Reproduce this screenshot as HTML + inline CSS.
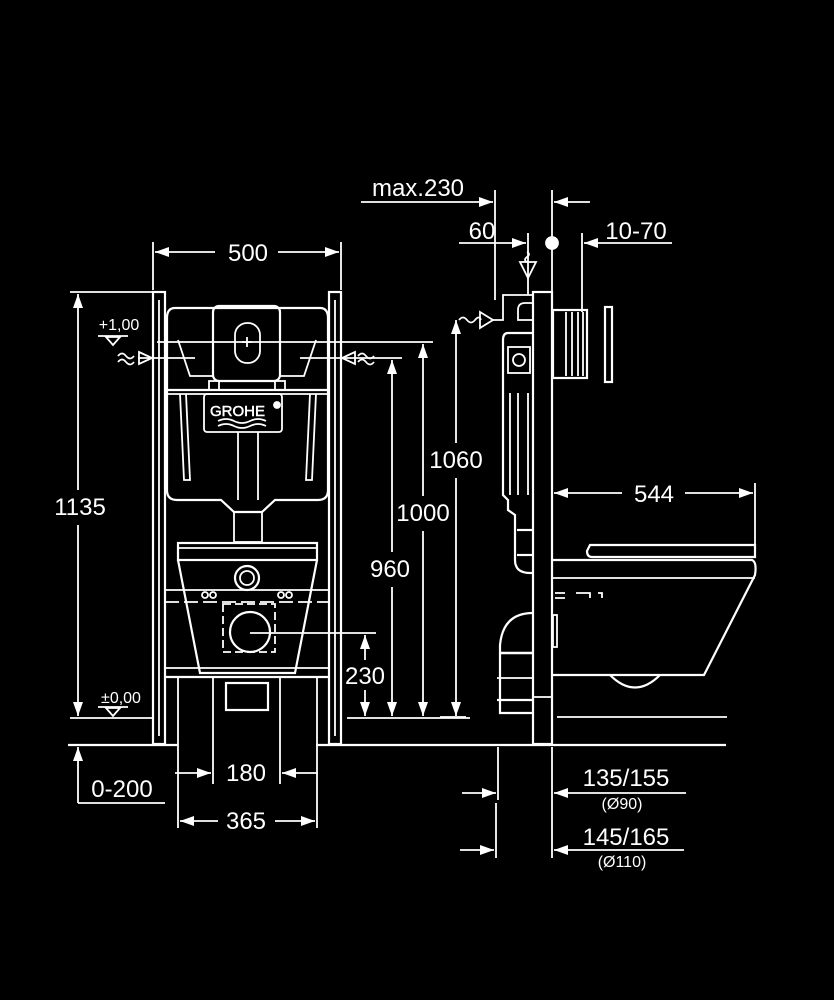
<!DOCTYPE html>
<html><head><meta charset="utf-8"><style>
html,body{margin:0;padding:0;background:#000;}
svg{display:block;}
text{font-family:"Liberation Sans",sans-serif;fill:#fff;}
</style></head><body>
<svg width="834" height="1000" viewBox="0 0 834 1000" xmlns="http://www.w3.org/2000/svg">
<defs>
<marker id="a" viewBox="0 0 14 10" refX="14" refY="5" markerWidth="14" markerHeight="10" markerUnits="userSpaceOnUse" orient="auto-start-reverse"><path d="M0,0 L14,5 L0,10 Z" fill="#fff"/></marker>
</defs>
<rect width="834" height="1000" fill="#000"/>
<g stroke="#fff" stroke-width="1.8" fill="none">
<line x1="68" y1="745" x2="178" y2="745" stroke-width="2.2"/>
<line x1="316" y1="745" x2="726" y2="745" stroke-width="2.2"/>
<line x1="70" y1="718" x2="152" y2="718"/>
<line x1="347" y1="718" x2="470" y2="718"/>
<line x1="557" y1="717" x2="727" y2="717"/>
<line x1="440" y1="717" x2="466" y2="717"/>
<rect x="153" y="292" width="12" height="452" stroke-width="2.2"/>
<rect x="329" y="292" width="12" height="452" stroke-width="2.2"/>
<line x1="159" y1="300" x2="159" y2="736"/>
<line x1="335" y1="300" x2="335" y2="736"/>
<line x1="165" y1="590" x2="329" y2="590"/>
<line x1="165" y1="602" x2="329" y2="602" stroke-dasharray="14 5"/>
<line x1="165" y1="668" x2="329" y2="668"/>
<line x1="165" y1="677" x2="329" y2="677" stroke-width="2.2"/>
<path d="M175,308 H320 Q328,308 328,318 V490 Q328,500 318,500 H275 L262,512 H234 L221,500 H177 Q167,500 167,490 V318 Q167,308 175,308 Z" stroke-width="2.2"/>
<path d="M178,340 L190,376 H214 M316,340 L304,376 H280" />
<line x1="167" y1="390" x2="328" y2="390" stroke-width="2.2"/>
<line x1="167" y1="394" x2="328" y2="394"/>
<path d="M180,394 L184,480 H190 L186,394 M316,394 L312,480 H306 L310,394"/>
<rect x="204" y="394" width="78" height="38" rx="3"/>
<text x="210" y="416" font-size="15" font-family="Liberation Serif" stroke="#fff" stroke-width="0.5" fill="none">GROHE</text>
<circle cx="277" cy="405" r="3" fill="#fff"/>
<path d="M218,421 q8,-4 16,0 t16,0 t16,0 M218,426 q8,-4 16,0 t16,0 t16,0" />
<line x1="238" y1="432" x2="238" y2="500"/><line x1="258" y1="432" x2="258" y2="500"/>
<rect x="213" y="306" width="67" height="75" rx="6" stroke-width="2.2"/>
<rect x="235" y="323" width="25" height="40" rx="12"/>
<line x1="247" y1="337" x2="247" y2="347"/><line x1="242" y1="342" x2="252" y2="342"/>
<rect x="209" y="381" width="10" height="9"/><rect x="275" y="381" width="10" height="9"/>
<rect x="234" y="512" width="28" height="30"/>
<rect x="178" y="543" width="139" height="17" stroke-width="2.2"/>
<line x1="178" y1="548" x2="317" y2="548"/>
<path d="M178,560 L200,673 H295 L317,560" stroke-width="2.2"/>
<circle cx="247" cy="578" r="12" stroke-width="2.2"/><circle cx="247" cy="578" r="7"/>
<circle cx="250" cy="632" r="20" stroke-width="2.2"/>
<rect x="223" y="604" width="52" height="48" stroke-dasharray="8 4"/>
<rect x="226" y="683" width="42" height="27" stroke-width="2.2"/>
<circle cx="205" cy="595" r="3"/><circle cx="213" cy="595" r="3"/><circle cx="281" cy="595" r="3"/><circle cx="289" cy="595" r="3"/>
<line x1="157" y1="342" x2="433" y2="342"/>
<line x1="138" y1="358" x2="195" y2="358"/>
<line x1="300" y1="358" x2="402" y2="358"/>
<path d="M139,352 L152,358 L139,364 Z"/>
<path d="M355,352 L342,358 L355,364 Z"/>
<path d="M118,356 q4,-5 8,0 t8,0 M118,362 q4,-5 8,0 t8,0"/>
<path d="M358,356 q4,-5 8,0 t8,0 M358,362 q4,-5 8,0 t8,0"/>
<path d="M106,337 L120,337 L113,345 Z"/>
<line x1="98" y1="336" x2="128" y2="336"/>
<path d="M106,708 L120,708 L113,716 Z"/>
<line x1="98" y1="707" x2="128" y2="707"/>
<line x1="70" y1="292" x2="153" y2="292"/>
<line x1="78" y1="294" x2="78" y2="490" marker-start="url(#a)"/>
<line x1="78" y1="525" x2="78" y2="716" marker-end="url(#a)"/>
<line x1="153" y1="242" x2="153" y2="290"/><line x1="341" y1="242" x2="341" y2="290"/>
<line x1="155" y1="252" x2="215" y2="252" marker-start="url(#a)"/>
<line x1="278" y1="252" x2="339" y2="252" marker-end="url(#a)"/>
<line x1="392" y1="360" x2="392" y2="552" marker-start="url(#a)"/>
<line x1="392" y1="587" x2="392" y2="716" marker-end="url(#a)"/>
<line x1="423" y1="344" x2="423" y2="496" marker-start="url(#a)"/>
<line x1="423" y1="531" x2="423" y2="716" marker-end="url(#a)"/>
<line x1="456" y1="320" x2="456" y2="443" marker-start="url(#a)"/>
<line x1="456" y1="478" x2="456" y2="716" marker-end="url(#a)"/>
<line x1="250" y1="633" x2="376" y2="633"/>
<line x1="365" y1="635" x2="365" y2="660" marker-start="url(#a)"/>
<line x1="365" y1="690" x2="365" y2="716" marker-end="url(#a)"/>
<line x1="78" y1="747" x2="78" y2="803" marker-start="url(#a)"/>
<line x1="78" y1="803" x2="165" y2="803"/>
<line x1="178" y1="677" x2="178" y2="828"/><line x1="317" y1="677" x2="317" y2="828"/>
<line x1="213" y1="677" x2="213" y2="784"/><line x1="280" y1="677" x2="280" y2="784"/>
<line x1="175" y1="773" x2="211" y2="773" marker-end="url(#a)"/>
<line x1="318" y1="773" x2="282" y2="773" marker-end="url(#a)"/>
<line x1="180" y1="821" x2="218" y2="821" marker-start="url(#a)"/>
<line x1="275" y1="821" x2="315" y2="821" marker-end="url(#a)"/>
<rect x="533" y="292" width="19" height="452" stroke-width="2.2"/>
<line x1="533" y1="697" x2="552" y2="697"/>
<rect x="553" y="310" width="34" height="68" stroke-width="2.2"/>
<path d="M566,312 V376 M572,312 V376 M578,312 V376 M583,312 V376"/>
<rect x="605" y="307" width="7" height="75" stroke-width="2.2"/>
<path d="M533,333 H508 Q503,333 503,340 V495 L508,500 V510 L515,515 V560 Q515,573 530,573 H533" stroke-width="2.2"/>
<rect x="508" y="347" width="22" height="26"/><circle cx="519" cy="360" r="6"/>
<path d="M510,393 V495 M518,393 V495 M528,393 V495"/>
<path d="M533,320 H518 V310 Q518,303 525,303 H533"/>
<path d="M533,613 Q503,613 500,645 V713 H533" stroke-width="2.2"/>
<line x1="500" y1="653" x2="533" y2="653" stroke-width="2.5"/>
<line x1="497" y1="700" x2="533" y2="700" stroke-width="2.2"/>
<line x1="497" y1="678" x2="533" y2="678"/>
<line x1="517" y1="530" x2="533" y2="530" stroke-width="2.2"/>
<line x1="517" y1="555" x2="533" y2="555" stroke-width="2.2"/>
<path d="M590,545 H755 V557 H592 Q587,557 587,551 Z" stroke-width="2.2"/>
<path d="M553,560 H752 Q757,562 755,575 L704,675 H553" stroke-width="2.2"/>
<line x1="553" y1="578" x2="755" y2="578"/>
<path d="M610,675 Q635,700 660,675" stroke-width="2.2"/>
<path d="M555,593 H565 M555,598 H565 M576,593 H590 V598 M598,593 H602 V598"/>
<rect x="553" y="615" width="4" height="32"/>
<path d="M459,320 q4,-5 8,0 t8,0 t6,0"/>
<path d="M480,312 L493,320 L480,328 Z"/>
<path d="M493,320 H503 V295 H533"/>
<path d="M520,262 L536,262 L528,278 Z"/>
<path d="M527,252 q4,2 0,5 t0,5"/>
<line x1="528" y1="233" x2="528" y2="295"/>
<line x1="495" y1="190" x2="495" y2="300"/>
<line x1="552" y1="190" x2="552" y2="292"/>
<line x1="582" y1="233" x2="582" y2="312"/>
<line x1="361" y1="202" x2="493" y2="202" marker-end="url(#a)"/>
<line x1="590" y1="202" x2="554" y2="202" marker-end="url(#a)"/>
<line x1="459" y1="243" x2="526" y2="243" marker-end="url(#a)"/>
<line x1="672" y1="243" x2="584" y2="243" marker-end="url(#a)"/>
<circle cx="552" cy="243" r="6" fill="#fff"/>
<line x1="755" y1="483" x2="755" y2="545"/>
<line x1="554" y1="493" x2="622" y2="493" marker-start="url(#a)"/>
<line x1="685" y1="493" x2="753" y2="493" marker-end="url(#a)"/>
<line x1="498" y1="747" x2="498" y2="800"/><line x1="496" y1="803" x2="496" y2="858"/>
<line x1="552" y1="747" x2="552" y2="858"/>
<line x1="462" y1="793" x2="496" y2="793" marker-end="url(#a)"/>
<line x1="686" y1="793" x2="554" y2="793" marker-end="url(#a)"/>
<line x1="460" y1="850" x2="494" y2="850" marker-end="url(#a)"/>
<line x1="684" y1="850" x2="554" y2="850" marker-end="url(#a)"/>
</g>
<g font-size="24">
<text x="248" y="261" text-anchor="middle">500</text>
<text x="80" y="515" text-anchor="middle">1135</text>
<text x="390" y="577" text-anchor="middle">960</text>
<text x="423" y="521" text-anchor="middle">1000</text>
<text x="456" y="468" text-anchor="middle">1060</text>
<text x="365" y="684" text-anchor="middle">230</text>
<text x="246" y="781" text-anchor="middle">180</text>
<text x="246" y="829" text-anchor="middle">365</text>
<text x="122" y="797" text-anchor="middle">0-200</text>
<text x="418" y="196" text-anchor="middle">max.230</text>
<text x="482" y="239" text-anchor="middle">60</text>
<text x="636" y="239" text-anchor="middle">10-70</text>
<text x="654" y="502" text-anchor="middle">544</text>
<text x="626" y="786" text-anchor="middle">135/155</text>
<text x="626" y="845" text-anchor="middle">145/165</text>
</g>
<g font-size="16">
<text x="119" y="330" text-anchor="middle">+1,00</text>
<text x="121" y="703" text-anchor="middle">±0,00</text>
<text x="622" y="809" text-anchor="middle">(Ø90)</text>
<text x="622" y="867" text-anchor="middle">(Ø110)</text>
</g>
</svg>
</body></html>
